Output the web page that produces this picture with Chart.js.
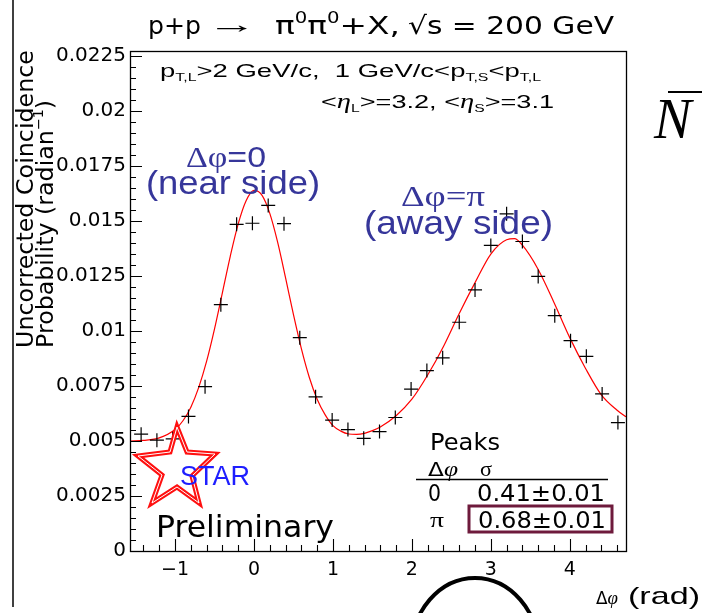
<!DOCTYPE html>
<html>
<head>
<meta charset="utf-8">
<script src="https://cdn.jsdelivr.net/npm/chart.js@4.4.1/dist/chart.umd.min.js"></script>
<style>
  html, body { margin: 0; padding: 0; background: #fff; }
  canvas { display: block; }
</style>
</head>
<body>
<canvas id="c" width="702" height="613" style="width:702px;height:613px"></canvas>
<script>
// Azimuthal correlation of forward pi0 pairs (STAR preliminary)
const dphi = [-1.43, -1.23, -1.03, -0.83, -0.62, -0.42, -0.22, -0.02, 0.18, 0.38, 0.58,
              0.78, 0.99, 1.19, 1.39, 1.59, 1.79, 1.99, 2.19, 2.39, 2.60, 2.80, 3.00,
              3.20, 3.40, 3.60, 3.81, 4.01, 4.21, 4.41, 4.61];
const prob = [0.00531, 0.00504, 0.00510, 0.00612, 0.00747, 0.01120, 0.01485, 0.01490,
              0.01571, 0.01488, 0.00970, 0.00701, 0.00595, 0.00552, 0.00512, 0.00543,
              0.00607, 0.00736, 0.00820, 0.00878, 0.01040, 0.01187, 0.01389, 0.01533,
              0.01407, 0.01248, 0.01070, 0.00956, 0.00885, 0.00714, 0.00584];

// Fitted curve (near-side + away-side peaks on a flat pedestal), sampled
const fitX = [-1.5708, -1.4, -1.2, -1.0, -0.9, -0.8, -0.7, -0.6, -0.5, -0.4, -0.3, -0.2, -0.1,
              0.0, 0.1, 0.2, 0.3, 0.4, 0.5, 0.6, 0.7, 0.8, 0.9, 1.0, 1.1, 1.2, 1.3, 1.4, 1.5,
              1.6, 1.8, 2.0, 2.2, 2.4, 2.6, 2.8, 3.0, 3.2, 3.3, 3.4, 3.6, 3.8, 4.0, 4.2, 4.4,
              4.6, 4.7124];
const fitY = [0.00500, 0.00503, 0.00514, 0.00552, 0.00592, 0.00654, 0.00744, 0.00863, 0.01010,
              0.01175, 0.01341, 0.01487, 0.01592, 0.01639, 0.01618, 0.01535, 0.01403, 0.01242,
              0.01074, 0.00920, 0.00790, 0.00690, 0.00620, 0.00570, 0.00545, 0.00532, 0.00530,
              0.00535, 0.00547, 0.00564, 0.00615, 0.00690, 0.00800, 0.00930, 0.01080, 0.01220,
              0.01350, 0.01415, 0.01420, 0.01390, 0.01280, 0.01130, 0.00970, 0.00830, 0.00710,
              0.00640, 0.00610];

const xTickValues = [-1, 0, 1, 2, 3, 4];
const xTickLabels = ['\u22121', '0', '1', '2', '3', '4'];
const yTickValues = [0, 0.0025, 0.005, 0.0075, 0.01, 0.0125, 0.015, 0.0175, 0.02, 0.0225];
const yTickLabels = ['0', '0.0025', '0.005', '0.0075', '0.01', '0.0125', '0.015', '0.0175', '0.02', '0.0225'];

const DV = '"DejaVu Sans", sans-serif';
const SANS = '"Liberation Sans", Arial, sans-serif';
const SERIF = '"Liberation Serif", "Times New Roman", serif';

// draw a run of differently styled pieces, optionally stretched to a given width
function drawRich(ctx, parts, x, y, targetW, color) {
  let w = 0;
  for (const p of parts) { ctx.font = p[1]; w += ctx.measureText(p[0]).width; }
  const s = targetW ? targetW / w : 1;
  ctx.save();
  ctx.translate(x, y);
  ctx.scale(s, 1);
  ctx.fillStyle = color || '#000';
  ctx.textAlign = 'left';
  ctx.textBaseline = 'alphabetic';
  let cx = 0;
  for (const p of parts) {
    ctx.font = p[1];
    ctx.fillText(p[0], cx, p[2] || 0);
    cx += ctx.measureText(p[0]).width;
  }
  ctx.restore();
}

const decorations = {
  id: 'decorations',
  beforeDraw(chart) {
    const ctx = chart.ctx;
    ctx.save();
    ctx.fillStyle = '#fff';
    ctx.fillRect(0, 0, chart.width, chart.height);
    ctx.restore();
  },
  afterDraw(chart) {
    const ctx = chart.ctx;
    const a = chart.chartArea;
    const xs = chart.scales.x, ys = chart.scales.y;
    ctx.save();

    // frame
    ctx.strokeStyle = '#000';
    ctx.lineWidth = 1.3;
    ctx.strokeRect(a.left + 0.5, a.top + 0.5, a.right - a.left, a.bottom - a.top);

    // inward ticks, major and minor
    ctx.lineWidth = 1.1;
    ctx.beginPath();
    for (let k = 0; k <= 46; k++) {
      const v = k * 0.0005;
      if (v > ys.max) break;
      const py = Math.round(ys.getPixelForValue(v)) + 0.5;
      const len = (k % 5 === 0) ? 12 : 6;
      ctx.moveTo(a.left, py); ctx.lineTo(a.left + len, py);
    }
    for (let k = -7; k <= 23; k++) {
      const v = k * 0.2;
      if (v < xs.min || v > xs.max) continue;
      const px = Math.round(xs.getPixelForValue(v)) + 0.5;
      const len = (k % 5 === 0) ? 12 : 6;
      ctx.moveTo(px, a.bottom); ctx.lineTo(px, a.bottom - len);
    }
    ctx.stroke();

    // page rule on the far left
    ctx.lineWidth = 1.5;
    ctx.beginPath(); ctx.moveTo(13, 0); ctx.lineTo(13, 607); ctx.stroke();

    // title
    const T = '25px ' + DV, Ts = '15px ' + DV;
    drawRich(ctx, [['p+p', T]], 148, 34, 53);
    drawRich(ctx, [['\u2192', '25px ' + SANS]], 207, 33, 50);
    drawRich(ctx, [['\u03C0', T], ['0', Ts, -11], ['\u03C0', T], ['0', Ts, -11], ['+X,', T]], 275, 34, 125);
    drawRich(ctx, [['\u221As = 200 GeV', T]], 408, 34, 206);

    // y axis title (two rotated lines)
    ctx.save();
    ctx.translate(33, 348); ctx.rotate(-Math.PI / 2);
    drawRich(ctx, [['Uncorrected Coincidence', '23.5px ' + DV]], 0, 0, 298);
    ctx.restore();
    ctx.save();
    ctx.translate(53, 348); ctx.rotate(-Math.PI / 2);
    drawRich(ctx, [['Probability (radian', '23.5px ' + DV], ['\u22121', '14px ' + DV, -10], [')', '23.5px ' + DV]], 0, 0, 248);
    ctx.restore();

    // x axis title
    drawRich(ctx, [['\u0394', '17px ' + DV], ['\u03C6', 'italic 19px ' + SERIF]], 596, 604, 22);
    drawRich(ctx, [['(rad)', '24px ' + SANS]], 628, 604, 72);

    // kinematic cuts
    const K = '19px ' + SANS, Ks = '11px ' + SANS;
    drawRich(ctx, [['p', K], ['T,L', Ks, 4], ['>2 GeV/c,  1 GeV/c<p', K], ['T,S', Ks, 4], ['<p', K], ['T,L', Ks, 4]], 160, 77, 381);
    const E = 'italic 20px ' + SERIF;
    drawRich(ctx, [['<', K], ['\u03B7', E], ['L', Ks, 4], ['>=3.2, <', K], ['\u03B7', E], ['S', Ks, 4], ['>=3.1', K]], 321, 108, 233);

    // peak annotations
    const blue = '#36369a';
    drawRich(ctx, [['\u0394\u03C6', '30px ' + SERIF], ['=0', '30px ' + SANS]], 186, 167, 80, blue);
    drawRich(ctx, [['(near side)', '34px ' + SANS]], 146, 194, 174, blue);
    drawRich(ctx, [['\u0394\u03C6=\u03C0', '30px ' + SERIF]], 401, 206, 84, blue);
    drawRich(ctx, [['(away side)', '34px ' + SANS]], 364, 234, 189, blue);

    // STAR logo
    const star = [[177, 427], [187, 452], [215, 454], [192, 476], [199, 503],
                  [177, 487], [152, 503], [162, 475], [138, 456], [170, 452]];
    ctx.beginPath();
    star.forEach((p, i) => i ? ctx.lineTo(p[0], p[1]) : ctx.moveTo(p[0], p[1]));
    ctx.closePath();
    ctx.lineJoin = 'miter';
    ctx.strokeStyle = '#ff1010';
    ctx.lineWidth = 5;
    ctx.stroke();
    ctx.strokeStyle = '#fff';
    ctx.lineWidth = 1;
    ctx.stroke();
    drawRich(ctx, [['STAR', '27px ' + SANS]], 180, 485, 70, '#1e1eff');

    drawRich(ctx, [['Preliminary', '30px ' + DV]], 156, 537, 178);

    // peak width table
    const P = '23px ' + DV;
    drawRich(ctx, [['Peaks', P]], 430, 450, 70);
    drawRich(ctx, [['\u0394', '20px ' + DV], ['\u03C6', 'italic 22px ' + SERIF]], 428, 476, 30);
    drawRich(ctx, [['\u03C3', '22px ' + SERIF]], 480, 476, 12);
    ctx.strokeStyle = '#000';
    ctx.lineWidth = 1.5;
    ctx.beginPath(); ctx.moveTo(416, 479.5); ctx.lineTo(608, 479.5); ctx.stroke();
    drawRich(ctx, [['0', P]], 428, 501, 13);
    drawRich(ctx, [['0.41\u00B10.01', P]], 477, 501, 128);
    drawRich(ctx, [['\u03C0', '22px ' + SERIF]], 430, 527, 14);
    ctx.strokeStyle = '#6e1a3c';
    ctx.lineWidth = 3;
    ctx.strokeRect(469, 506, 143, 26);
    drawRich(ctx, [['0.68\u00B10.01', P]], 478, 528, 128);

    // neighbouring slide content
    ctx.strokeStyle = '#000';
    ctx.lineWidth = 2;
    ctx.beginPath(); ctx.moveTo(668, 92); ctx.lineTo(702, 92); ctx.stroke();
    drawRich(ctx, [['N', 'italic 56px ' + SERIF]], 654, 138, 0);
    ctx.lineWidth = 4;
    ctx.beginPath(); ctx.ellipse(475, 652, 64, 74, 0, 0, Math.PI * 2); ctx.stroke();

    ctx.restore();
  }
};

new Chart(document.getElementById('c'), {
  type: 'scatter',
  data: {
    datasets: [
      {
        label: 'fit',
        data: fitX.map((x, i) => ({ x: x, y: fitY[i] })),
        showLine: true,
        borderColor: '#ff0000',
        borderWidth: 1.2,
        pointRadius: 0,
        cubicInterpolationMode: 'monotone',
        order: 2
      },
      {
        label: 'data',
        data: dphi.map((x, i) => ({ x: x, y: prob[i] })),
        showLine: false,
        pointStyle: 'cross',
        pointRadius: 7,
        borderColor: '#000',
        borderWidth: 1.2,
        backgroundColor: '#000',
        order: 1
      }
    ]
  },
  options: {
    responsive: false,
    animation: false,
    devicePixelRatio: 1,
    layout: { padding: { left: 0, right: 76, top: 51, bottom: 0 } },
    plugins: { legend: { display: false }, tooltip: { enabled: false } },
    scales: {
      x: {
        type: 'linear', min: -1.5708, max: 4.7124,
        grid: { display: false, drawTicks: false },
        border: { display: false },
        afterBuildTicks: s => { s.ticks = xTickValues.map(v => ({ value: v })); },
        afterFit: s => { s.height = 62; },
        ticks: {
          color: '#000', padding: 8, autoSkip: false, maxRotation: 0,
          font: { family: 'DejaVu Sans', size: 19 },
          callback: (v, i) => xTickLabels[i]
        }
      },
      y: {
        type: 'linear', min: 0, max: 0.02273,
        grid: { display: false, drawTicks: false },
        border: { display: false },
        afterBuildTicks: s => { s.ticks = yTickValues.map(v => ({ value: v })); },
        afterFit: s => { s.width = 130; },
        ticks: {
          color: '#000', padding: 4, autoSkip: false,
          font: { family: 'DejaVu Sans', size: 20 },
          callback: (v, i) => yTickLabels[i]
        }
      }
    }
  },
  plugins: [decorations]
});
</script>
</body>
</html>
